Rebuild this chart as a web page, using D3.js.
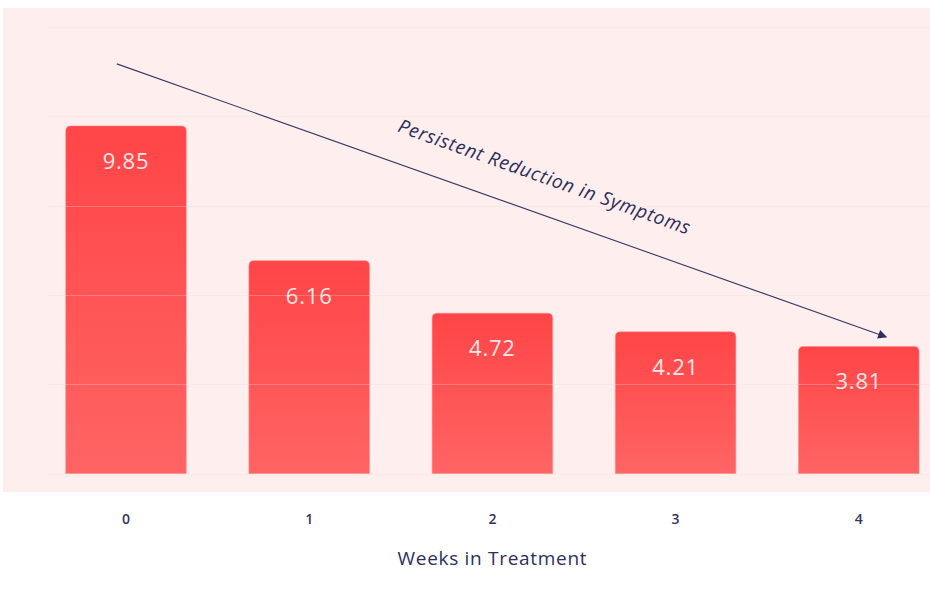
<!DOCTYPE html>
<html>
<head>
<meta charset="utf-8">
<script src="https://cdn.jsdelivr.net/npm/d3@7"></script>
<style>
  html, body { margin: 0; padding: 0; background: #ffffff; }
  svg { display: block; }
</style>
</head>
<body>
<svg id="chart" width="930" height="600"></svg>
<script>
// Weekly symptom scores
const weeks = ["0", "1", "2", "3", "4"];
const scores = [9.85, 6.16, 4.72, 4.21, 3.81];

// Axis text
const xTitle = "Weeks in Treatment";
const trendLabel = "Persistent Reduction in Symptoms";

// Trend arrow endpoints, in (week, score) units
const trendWeeks = [-0.05, 4.15];
const trendScores = [11.55, 4.07];

const svg = d3.select("#chart");

// Plot panel
const panel = { left: 3, top: 8, right: 930, bottom: 492 };
const plot = { left: 47, top: 27, bottom: 473.5 };

const x = d3.scaleBand()
  .domain(weeks)
  .range([34.4, 950.4])
  .paddingInner(0.342)
  .paddingOuter(0.171);

// continuous week position (bar centres) for annotation placement
const xc = d3.scaleLinear()
  .domain([0, weeks.length - 1])
  .range([x(weeks[0]) + x.bandwidth() / 2, x(weeks[weeks.length - 1]) + x.bandwidth() / 2]);

const yDomain = [0.33, 12.56];
const y = d3.scaleLinear().domain(yDomain).range([plot.bottom, plot.top]);

const defs = svg.append("defs");
const grad = defs.append("linearGradient")
  .attr("id", "barGrad")
  .attr("x1", 0).attr("y1", 0).attr("x2", 0).attr("y2", 1);
grad.append("stop").attr("offset", "0%").attr("stop-color", "#ff4547");
grad.append("stop").attr("offset", "100%").attr("stop-color", "#ff6464");

const marker = defs.append("marker")
  .attr("id", "arrowHead")
  .attr("viewBox", "0 0 10 10")
  .attr("refX", 9).attr("refY", 5)
  .attr("markerWidth", 12).attr("markerHeight", 9)
  .attr("markerUnits", "userSpaceOnUse")
  .attr("orient", "auto");
marker.append("path").attr("d", "M0,0 L10,5 L0,10 z").attr("fill", "#2f2f5c");

// background panel
svg.append("rect")
  .attr("x", panel.left).attr("y", panel.top)
  .attr("width", panel.right - panel.left)
  .attr("height", panel.bottom - panel.top)
  .attr("fill", "#feeeee");

// bars with rounded tops
const r = 5;
function barPath(x0, w, top, bottom) {
  return `M${x0},${bottom} L${x0},${top + r} Q${x0},${top} ${x0 + r},${top} ` +
         `L${x0 + w - r},${top} Q${x0 + w},${top} ${x0 + w},${top + r} L${x0 + w},${bottom} Z`;
}

svg.append("g")
  .selectAll("path")
  .data(scores)
  .join("path")
  .attr("d", (d, i) => barPath(x(weeks[i]), x.bandwidth(), y(d), y(yDomain[0])))
  .attr("fill", "url(#barGrad)")
  .attr("stroke", "#ff8a8a")
  .attr("stroke-opacity", 0.6)
  .attr("stroke-width", 1);

// faint horizontal gridlines (drawn over bars)
const gridVals = d3.range(6).map(i => yDomain[0] + i * (yDomain[1] - yDomain[0]) / 5);
svg.append("g")
  .selectAll("line")
  .data(gridVals)
  .join("line")
  .attr("x1", plot.left).attr("x2", panel.right)
  .attr("y1", d => Math.round(y(d)) + 0.5)
  .attr("y2", d => Math.round(y(d)) + 0.5)
  .attr("stroke", "#ecdada")
  .attr("stroke-opacity", 0.3)
  .attr("stroke-width", 1);

// value labels inside bars
svg.append("g")
  .selectAll("text")
  .data(scores)
  .join("text")
  .attr("x", (d, i) => x(weeks[i]) + x.bandwidth() / 2)
  .attr("y", d => y(d) + 34)
  .attr("text-anchor", "middle")
  .attr("dominant-baseline", "central")
  .attr("font-family", "'Open Sans', sans-serif")
  .attr("font-size", 22)
  .attr("letter-spacing", 0.8)
  .attr("fill", "#fde6e6")
  .text(d => d.toFixed(2));

// x axis tick labels
const xAxis = d3.axisBottom(x).tickSize(0).tickPadding(0);
const gx = svg.append("g")
  .attr("transform", `translate(0,${514})`)
  .call(xAxis);
gx.select(".domain").remove();
gx.selectAll("text")
  .attr("font-family", "'Open Sans', sans-serif")
  .attr("font-size", 14)
  .attr("font-weight", 600)
  .attr("fill", "#34345f")
  .attr("dy", "0.35em")
  .attr("y", 5);

// x axis title
svg.append("text")
  .attr("x", xc(2))
  .attr("y", 558)
  .attr("text-anchor", "middle")
  .attr("dominant-baseline", "central")
  .attr("font-family", "'Open Sans', sans-serif")
  .attr("font-size", 19)
  .attr("font-weight", 500)
  .attr("letter-spacing", 0.7)
  .attr("fill", "#2e2e5c")
  .text(xTitle);

// trend arrow
const ax1 = xc(trendWeeks[0]), ay1 = y(trendScores[0]);
const ax2 = xc(trendWeeks[1]), ay2 = y(trendScores[1]);
svg.append("line")
  .attr("x1", ax1).attr("y1", ay1)
  .attr("x2", ax2).attr("y2", ay2)
  .attr("stroke", "#3a3a62")
  .attr("stroke-width", 1.1)
  .attr("marker-end", "url(#arrowHead)");

// trend label, rotated parallel to the arrow
const angle = Math.atan2(ay2 - ay1, ax2 - ax1) * 180 / Math.PI;
const t = 0.54;
const mx = ax1 + (ax2 - ax1) * t, my = ay1 + (ay2 - ay1) * t;
svg.append("text")
  .attr("transform", `translate(${mx},${my}) rotate(${angle})`)
  .attr("y", -37)
  .attr("text-anchor", "middle")
  .attr("dominant-baseline", "central")
  .attr("font-family", "'Open Sans', sans-serif")
  .attr("font-style", "italic")
  .attr("font-size", 19)
  .attr("letter-spacing", 0.8)
  .attr("fill", "#2e2e5c")
  .text(trendLabel);
</script>
</body>
</html>
